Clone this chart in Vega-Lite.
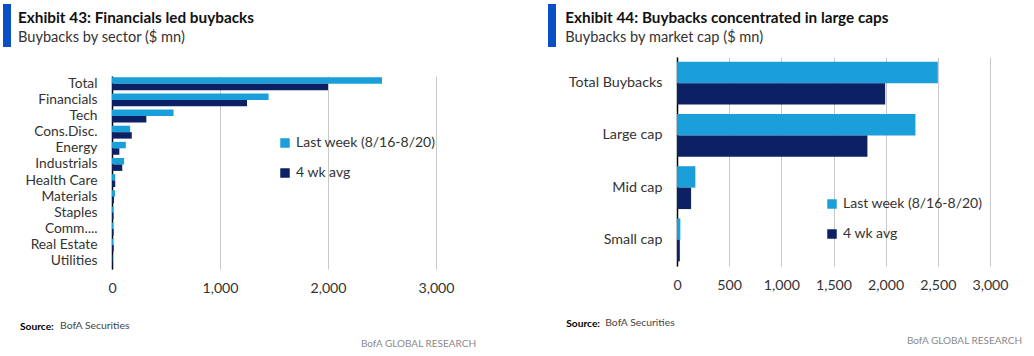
{
  "$schema": "https://vega.github.io/schema/vega-lite/v6.json",
  "background": "white",
  "padding": {"left": 3, "top": 4, "right": 0, "bottom": 0},
  "autosize": {"type": "pad"},
  "config": {
    "font": "Lato",
    "view": {"stroke": null},
    "title": {"font": "Lato", "fontSize": 15.3, "fontWeight": "bold", "color": "#111111", "subtitleFont": "Lato", "subtitleFontSize": 14.6, "subtitleColor": "#333333", "subtitlePadding": 4, "anchor": "start"},
    "axis": {"labelFont": "Lato", "labelColor": "#333333", "labelFontSize": 13.8, "ticks": false},
    "axisX": {"domain": false, "grid": true, "gridColor": "#c8c8c8", "gridWidth": 1, "labelPadding": 12, "labelFontSize": 14.2, "labelFlush": false, "labelOverlap": false},
    "axisY": {"domainColor": "#000000", "domainWidth": 1.5, "grid": false, "labelPadding": 15},
    "legend": {"orient": "none", "symbolType": "square", "symbolSize": 90, "symbolStrokeWidth": 0, "labelFont": "Lato", "labelFontSize": 14, "labelColor": "#333333", "rowPadding": 16, "labelOffset": 4},
    "point": {"opacity": 0}
  },
  "align": "none",
  "spacing": 71,
  "resolve": {"scale": {"color": "independent", "yOffset": "independent", "x": "independent", "y": "independent"}, "legend": {"color": "independent"}},
  "hconcat": [
    {
      "align": "none",
      "spacing": 7,
      "resolve": {"scale": {"color": "independent", "yOffset": "independent", "x": "independent", "y": "independent"}, "legend": {"color": "independent"}},
      "hconcat": [
        {
          "width": 8,
          "height": 43,
          "data": {"values": [{}]},
          "mark": {"type": "rect", "color": "#0b4fc4"},
          "encoding": {
            "x": {"datum": 0, "type": "quantitative", "scale": {"domain": [0, 1]}, "axis": null},
            "x2": {"datum": 1},
            "y": {"datum": 0, "type": "quantitative", "scale": {"domain": [0, 1]}, "axis": null},
            "y2": {"datum": 1}
          }
        },
        {
          "align": "none",
          "spacing": 6,
          "resolve": {"scale": {"color": "independent", "yOffset": "independent", "x": "independent", "y": "independent"}, "legend": {"color": "independent"}},
          "vconcat": [
            {"width": 1, "height": 1, "data": {"values": []}, "mark": {"type": "point"}},
            {
              "title": {"text": "BofA GLOBAL RESEARCH", "orient": "bottom", "anchor": "end", "frame": "bounds", "dx": 22, "offset": 7, "fontSize": 10, "fontWeight": "normal", "color": "#8a8a8a"},
              "resolve": {"scale": {"color": "independent", "yOffset": "independent"}, "legend": {"color": "independent"}},
              "vconcat": [
                {
                  "title": {"text": "BofA Securities", "orient": "bottom", "anchor": "start", "frame": "bounds", "dx": 42, "dy": -11, "offset": 0, "fontSize": 10.4, "fontWeight": "normal", "color": "#444444"},
                  "resolve": {"scale": {"color": "independent", "yOffset": "independent"}, "legend": {"color": "independent"}},
                  "vconcat": [
                    {
                      "title": {"text": "Source:", "orient": "bottom", "anchor": "start", "frame": "bounds", "dx": 2, "offset": 27, "fontSize": 10.2, "fontWeight": "bold", "color": "#000000"},
                      "resolve": {"scale": {"color": "independent", "yOffset": "independent"}, "legend": {"color": "independent"}},
                      "vconcat": [
                        {
                          "width": 324,
                          "height": {"step": 16.14, "for": "position"},
                          "title": {"text": "Exhibit 43: Financials led buybacks", "subtitle": "Buybacks by sector ($ mn)", "anchor": "start", "frame": "bounds", "dx": -7, "offset": 31},
                          "data": {"values": [
                            {"sector": "Total", "series": "Last week (8/16-8/20)", "value": 2500},
                            {"sector": "Total", "series": "4 wk avg", "value": 2000},
                            {"sector": "Financials", "series": "Last week (8/16-8/20)", "value": 1450},
                            {"sector": "Financials", "series": "4 wk avg", "value": 1250},
                            {"sector": "Tech", "series": "Last week (8/16-8/20)", "value": 570},
                            {"sector": "Tech", "series": "4 wk avg", "value": 318},
                            {"sector": "Cons.Disc.", "series": "Last week (8/16-8/20)", "value": 168},
                            {"sector": "Cons.Disc.", "series": "4 wk avg", "value": 183},
                            {"sector": "Energy", "series": "Last week (8/16-8/20)", "value": 128},
                            {"sector": "Energy", "series": "4 wk avg", "value": 68},
                            {"sector": "Industrials", "series": "Last week (8/16-8/20)", "value": 112},
                            {"sector": "Industrials", "series": "4 wk avg", "value": 95},
                            {"sector": "Health Care", "series": "Last week (8/16-8/20)", "value": 30},
                            {"sector": "Health Care", "series": "4 wk avg", "value": 30},
                            {"sector": "Materials", "series": "Last week (8/16-8/20)", "value": 28},
                            {"sector": "Materials", "series": "4 wk avg", "value": 18},
                            {"sector": "Staples", "series": "Last week (8/16-8/20)", "value": 14},
                            {"sector": "Staples", "series": "4 wk avg", "value": 14},
                            {"sector": "Comm....", "series": "Last week (8/16-8/20)", "value": 12},
                            {"sector": "Comm....", "series": "4 wk avg", "value": 15},
                            {"sector": "Real Estate", "series": "Last week (8/16-8/20)", "value": 12},
                            {"sector": "Real Estate", "series": "4 wk avg", "value": 16},
                            {"sector": "Utilities", "series": "Last week (8/16-8/20)", "value": 3},
                            {"sector": "Utilities", "series": "4 wk avg", "value": 5}
                          ]},
                          "mark": {"type": "bar"},
                          "encoding": {
                            "y": {"field": "sector", "type": "nominal", "sort": null, "scale": {"paddingInner": 0.2, "paddingOuter": 0.08}, "axis": {"title": null}},
                            "yOffset": {"field": "series", "type": "nominal", "sort": ["Last week (8/16-8/20)", "4 wk avg"]},
                            "x": {"field": "value", "type": "quantitative", "scale": {"domain": [0, 3000]}, "axis": {"title": null, "values": [0, 1000, 2000, 3000], "format": ",.0f"}},
                            "color": {"field": "series", "type": "nominal", "scale": {"domain": ["Last week (8/16-8/20)", "4 wk avg"], "range": ["#1a9fdb", "#0b2163"]}, "legend": {"title": null, "legendX": 166, "legendY": 60}}
                          }
                        }
                      ]
                    }
                  ]
                }
              ]
            }
          ]
        }
      ]
    },
    {
      "align": "none",
      "spacing": 9,
      "resolve": {"scale": {"color": "independent", "yOffset": "independent", "x": "independent", "y": "independent"}, "legend": {"color": "independent"}},
      "hconcat": [
        {
          "width": 8,
          "height": 43,
          "data": {"values": [{}]},
          "mark": {"type": "rect", "color": "#0b4fc4"},
          "encoding": {
            "x": {"datum": 0, "type": "quantitative", "scale": {"domain": [0, 1]}, "axis": null},
            "x2": {"datum": 1},
            "y": {"datum": 0, "type": "quantitative", "scale": {"domain": [0, 1]}, "axis": null},
            "y2": {"datum": 1}
          }
        },
        {
          "align": "none",
          "spacing": 6,
          "resolve": {"scale": {"color": "independent", "yOffset": "independent", "x": "independent", "y": "independent"}, "legend": {"color": "independent"}},
          "vconcat": [
            {"width": 1, "height": 1, "data": {"values": []}, "mark": {"type": "point"}},
            {
              "title": {"text": "BofA GLOBAL RESEARCH", "orient": "bottom", "anchor": "end", "frame": "bounds", "dx": 14, "offset": 7, "fontSize": 10, "fontWeight": "normal", "color": "#8a8a8a"},
              "resolve": {"scale": {"color": "independent", "yOffset": "independent"}, "legend": {"color": "independent"}},
              "vconcat": [
                {
                  "title": {"text": "BofA Securities", "orient": "bottom", "anchor": "start", "frame": "bounds", "dx": 40, "dy": -11, "offset": 0, "fontSize": 10.4, "fontWeight": "normal", "color": "#444444"},
                  "resolve": {"scale": {"color": "independent", "yOffset": "independent"}, "legend": {"color": "independent"}},
                  "vconcat": [
                    {
                      "title": {"text": "Source:", "orient": "bottom", "anchor": "start", "frame": "bounds", "dx": 1, "offset": 27, "fontSize": 10.2, "fontWeight": "bold", "color": "#000000"},
                      "resolve": {"scale": {"color": "independent", "yOffset": "independent"}, "legend": {"color": "independent"}},
                      "vconcat": [
                        {
                          "width": 313,
                          "height": {"step": 52.25, "for": "position"},
                          "title": {"text": "Exhibit 44: Buybacks concentrated in large caps", "subtitle": "Buybacks by market cap ($ mn)", "anchor": "start", "frame": "bounds", "dx": -3, "offset": 12},
                          "data": {"values": [
                            {"cap": "Total Buybacks", "series": "Last week (8/16-8/20)", "value": 2500},
                            {"cap": "Total Buybacks", "series": "4 wk avg", "value": 1995},
                            {"cap": "Large cap", "series": "Last week (8/16-8/20)", "value": 2285},
                            {"cap": "Large cap", "series": "4 wk avg", "value": 1825},
                            {"cap": "Mid cap", "series": "Last week (8/16-8/20)", "value": 176},
                            {"cap": "Mid cap", "series": "4 wk avg", "value": 135},
                            {"cap": "Small cap", "series": "Last week (8/16-8/20)", "value": 32},
                            {"cap": "Small cap", "series": "4 wk avg", "value": 27}
                          ]},
                          "mark": {"type": "bar"},
                          "encoding": {
                            "y": {"field": "cap", "type": "nominal", "sort": null, "scale": {"paddingInner": 0.18, "paddingOuter": 0.09}, "axis": {"title": null, "labelFontSize": 14.3}},
                            "yOffset": {"field": "series", "type": "nominal", "sort": ["Last week (8/16-8/20)", "4 wk avg"]},
                            "x": {"field": "value", "type": "quantitative", "scale": {"domain": [0, 3000]}, "axis": {"title": null, "values": [0, 500, 1000, 1500, 2000, 2500, 3000], "format": ",.0f"}},
                            "color": {"field": "series", "type": "nominal", "scale": {"domain": ["Last week (8/16-8/20)", "4 wk avg"], "range": ["#1a9fdb", "#0b2163"]}, "legend": {"title": null, "legendX": 148, "legendY": 140}}
                          }
                        }
                      ]
                    }
                  ]
                }
              ]
            }
          ]
        }
      ]
    }
  ]
}
